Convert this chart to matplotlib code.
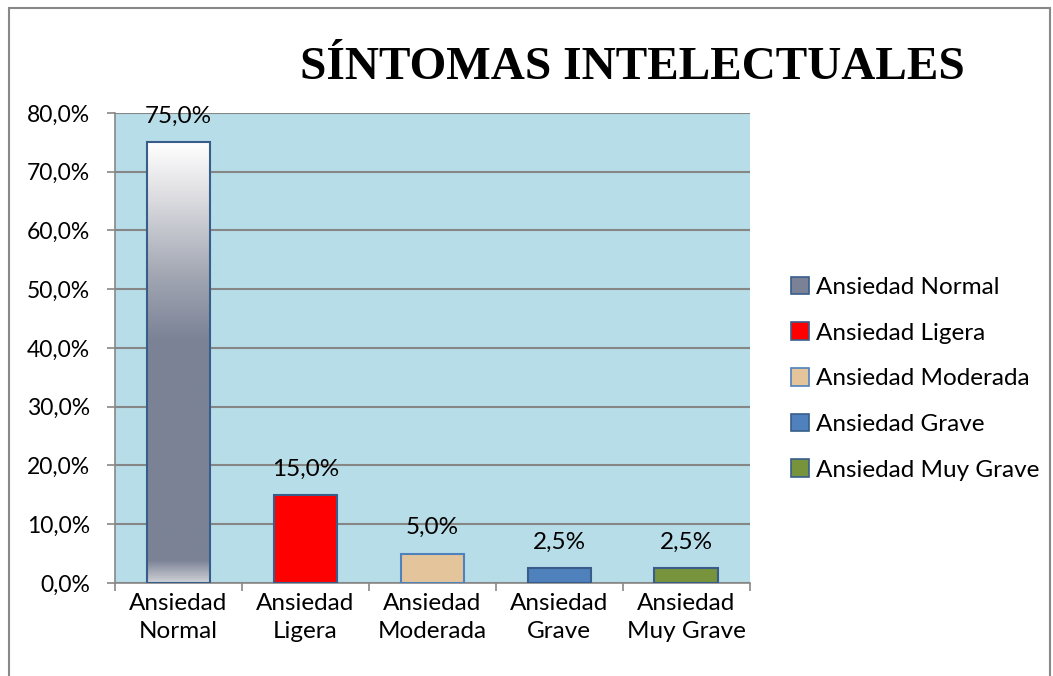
import numpy as np
import matplotlib
matplotlib.use("Agg")
import matplotlib.pyplot as plt
from matplotlib.colors import LinearSegmentedColormap
from matplotlib.patches import Rectangle, Patch
from matplotlib.ticker import FuncFormatter

categories = ["Ansiedad\nNormal", "Ansiedad\nLigera", "Ansiedad\nModerada", "Ansiedad\nGrave", "Ansiedad\nMuy Grave"]
legend_labels = ["Ansiedad Normal", "Ansiedad Ligera", "Ansiedad Moderada", "Ansiedad Grave", "Ansiedad Muy Grave"]
values = [75.0, 15.0, 5.0, 2.5, 2.5]
colors = ["#7b8296", "#ff0000", "#e3c49b", "#4f81bd", "#77933c"]
edges = ["#385d8a", "#385d8a", "#4f81bd", "#385d8a", "#385d8a"]

plt.rcParams['font.family'] = ['Lato', 'DejaVu Sans']
FS = 17.5

fig = plt.figure(figsize=(10.53, 6.76), dpi=100)
ax = fig.add_axes([0.109, 0.1376, 0.603, 0.6954])
ax.set_facecolor("#b7dde8")

x = np.arange(len(values))
bars = ax.bar(x, values, width=0.5, color=colors, edgecolor=edges, linewidth=1.5, zorder=3)

# gradient fill for the first bar
grad = LinearSegmentedColormap.from_list("g", [
    (0.0, "#d0d1d7"), (0.05, "#7b8296"), (0.55, "#7b8296"),
    (0.7, "#a2a7b3"), (0.88, "#dedee2"), (1.0, "#ffffff")])
b0 = bars[0]
img = ax.imshow(np.linspace(0, 1, 256).reshape(-1, 1), cmap=grad, origin="lower",
                aspect="auto", zorder=3.5,
                extent=[b0.get_x(), b0.get_x() + b0.get_width(), 0, b0.get_height()])
img.set_clip_path(b0)
b0.set_facecolor("none")
b0.set_zorder(4)

for b, v in zip(bars, values):
    ax.text(b.get_x() + b.get_width() / 2, v + 2.6, f"{v:.1f}%".replace(".", ","),
            ha="center", va="bottom", fontsize=FS, zorder=5)

ax.set_ylim(0, 80)
ax.set_xlim(-0.5, len(values) - 0.5)
ax.set_yticks(np.arange(0, 81, 10))
ax.yaxis.set_major_formatter(FuncFormatter(lambda v, p: f"{v:.1f}%".replace(".", ",")))
ax.set_xticks(x)
ax.set_xticklabels(categories, fontsize=FS, linespacing=1.45)
ax.set_xticks(np.arange(-0.5, len(values)), minor=True)
ax.tick_params(axis="x", which="major", length=0, pad=7)
ax.tick_params(axis="x", which="minor", length=6, color="#888888", width=1.2)
ax.tick_params(axis="y", length=6, color="#888888", width=1.2, labelsize=16.5, pad=12)
ax.grid(axis="y", color="#868686", linewidth=1.5, zorder=1)
for s in ["top", "right"]:
    ax.spines[s].set_visible(False)
for s in ["left", "bottom"]:
    ax.spines[s].set_color("#888888")
    ax.spines[s].set_linewidth(1.2)

handles = [Patch(facecolor=c, edgecolor=e, linewidth=1.2) for c, e in zip(colors, edges)]
fig.legend(handles, legend_labels, loc="center left", bbox_to_anchor=(0.73, 0.44),
           frameon=False, fontsize=FS, handlelength=0.75, handleheight=0.75,
           handletextpad=0.3, labelspacing=1.0)

fig.text(0.601, 0.9, "SÍNTOMAS INTELECTUALES", ha="center", va="center",
         fontsize=34, fontweight="bold", family="Liberation Serif")

fig.patches.append(Rectangle((0.0085, -0.05), 0.9885, 1.038, transform=fig.transFigure,
                             fill=False, edgecolor="#888888", linewidth=1.5))

fig.savefig("out.png", dpi=100)
